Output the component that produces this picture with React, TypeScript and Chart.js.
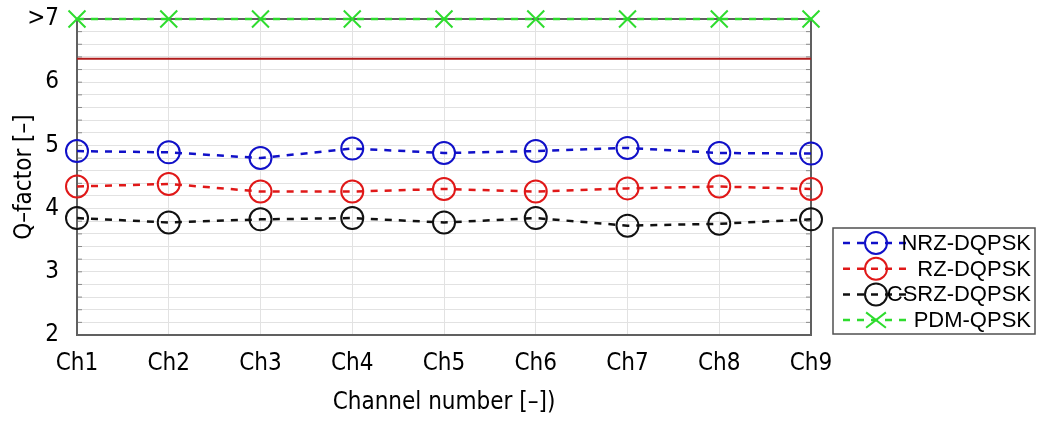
import React, { useEffect, useRef } from 'react';
import { Chart, registerables } from 'chart.js';

Chart.register(...registerables);

const channels = ['Ch1', 'Ch2', 'Ch3', 'Ch4', 'Ch5', 'Ch6', 'Ch7', 'Ch8', 'Ch9'];
const nrzDqpsk = [4.91, 4.89, 4.8, 4.95, 4.88, 4.91, 4.96, 4.88, 4.87];
const rzDqpsk = [4.35, 4.39, 4.27, 4.27, 4.31, 4.27, 4.32, 4.35, 4.31];
const csrzDqpsk = [3.85, 3.78, 3.83, 3.85, 3.78, 3.85, 3.73, 3.76, 3.83];
const pdmQpsk = [7, 7, 7, 7, 7, 7, 7, 7, 7];
const thresholdQ = [6.37, 6.37, 6.37, 6.37, 6.37, 6.37, 6.37, 6.37, 6.37];
const yTickValues = [2, 3, 4, 5, 6, 7];
const yTickLabels = ['2', '3', '4', '5', '6', '>7'];
const seriesNames = ['NRZ-DQPSK', 'RZ-DQPSK', 'CSRZ-DQPSK', 'PDM-QPSK'];

const AXIS_FONT = '"DejaVu Sans Condensed", "Liberation Sans Narrow", "DejaVu Sans", sans-serif';

const frameAndTicks = {
  id: 'frameAndTicks',
  beforeDatasetsDraw(chart: any) {
    const { ctx, chartArea: a, scales } = chart;
    const y = scales.y;
    ctx.save();
    ctx.strokeStyle = '#8a8a8a';
    ctx.lineWidth = 1;
    y.ticks.forEach((t: any) => {
      const py = y.getPixelForValue(t.value);
      ctx.beginPath();
      ctx.moveTo(a.left, py);
      ctx.lineTo(a.left + 5, py);
      ctx.moveTo(a.right, py);
      ctx.lineTo(a.right - 5, py);
      ctx.stroke();
    });
    ctx.strokeStyle = '#606060';
    ctx.lineWidth = 2;
    ctx.strokeRect(a.left, a.top, a.right - a.left, a.bottom - a.top);
    ctx.restore();
  },
};

const boxLegend = {
  id: 'boxLegend',
  afterDraw(chart: any) {
    const { ctx } = chart;
    const bx = 833, by = 228, bw = 202, bh = 106;
    ctx.save();
    ctx.fillStyle = '#ffffff';
    ctx.fillRect(bx, by, bw, bh);
    ctx.strokeStyle = '#505050';
    ctx.lineWidth = 1.5;
    ctx.strokeRect(bx, by, bw, bh);
    const ds = chart.data.datasets.filter((d: any) => d.inLegend);
    ds.forEach((d: any, i: number) => {
      const cy = 243 + i * 25.7;
      ctx.strokeStyle = d.borderColor;
      ctx.lineWidth = 2.5;
      ctx.setLineDash(d.borderDash || []);
      ctx.beginPath();
      ctx.moveTo(843, cy);
      ctx.lineTo(912, cy);
      ctx.stroke();
      ctx.setLineDash([]);
      ctx.lineWidth = 2;
      const cx = 876;
      const r = 11;
      ctx.beginPath();
      if (d.pointStyle === 'crossRot') {
        ctx.moveTo(cx - r * 0.9, cy - r * 0.7);
        ctx.lineTo(cx + r * 0.9, cy + r * 0.7);
        ctx.moveTo(cx - r * 0.9, cy + r * 0.7);
        ctx.lineTo(cx + r * 0.9, cy - r * 0.7);
      } else {
        ctx.arc(cx, cy, r, 0, Math.PI * 2);
      }
      ctx.stroke();
      ctx.fillStyle = '#000000';
      ctx.font = '22px "Liberation Sans", Arial, sans-serif';
      ctx.textAlign = 'right';
      ctx.textBaseline = 'middle';
      ctx.fillText(d.label, 1031, cy + 1);
    });
    ctx.restore();
  },
};

export default function App() {
  const ref = useRef<HTMLCanvasElement | null>(null);

  useEffect(() => {
    if (!ref.current) return;
    const circleSeries = (label: string, data: number[], color: string) => ({
      label,
      data,
      borderColor: color,
      backgroundColor: 'rgba(0,0,0,0)',
      borderWidth: 2.5,
      borderDash: [7, 7],
      pointStyle: 'circle',
      pointRadius: 11,
      pointBorderWidth: 2,
      pointBorderColor: color,
      pointBackgroundColor: 'rgba(0,0,0,0)',
      clip: false,
      inLegend: true,
    });
    const chart = new Chart(ref.current, {
      type: 'line',
      data: {
        labels: channels,
        datasets: [
          {
            label: 'threshold',
            data: thresholdQ,
            borderColor: '#b01c1c',
            borderWidth: 2,
            pointRadius: 0,
            clip: false,
            inLegend: false,
          } as any,
          circleSeries(seriesNames[0], nrzDqpsk, '#1010c8'),
          circleSeries(seriesNames[1], rzDqpsk, '#e01818'),
          circleSeries(seriesNames[2], csrzDqpsk, '#111111'),
          {
            label: seriesNames[3],
            data: pdmQpsk,
            borderColor: '#2edc2e',
            backgroundColor: 'rgba(0,0,0,0)',
            borderWidth: 2.5,
            borderDash: [7, 7],
            pointStyle: 'crossRot',
            pointRadius: 12,
            pointBorderWidth: 2,
            pointBorderColor: '#2edc2e',
            clip: false,
            inLegend: true,
          } as any,
        ],
      },
      options: {
        animation: false,
        responsive: true,
        maintainAspectRatio: false,
        layout: { padding: { left: 0, right: 234, top: 19, bottom: 0 } },
        plugins: { legend: { display: false }, tooltip: { enabled: false } },
        scales: {
          x: {
            type: 'category',
            offset: false,
            grid: { color: '#e2e2e2', lineWidth: 1, drawTicks: false },
            border: { display: false },
            ticks: {
              color: '#000',
              font: { family: AXIS_FONT, size: 24 },
              padding: 14,
              maxRotation: 0,
              autoSkip: false,
            },
            title: {
              display: true,
              text: 'Channel number [–])',
              color: '#000',
              font: { family: AXIS_FONT, size: 24 },
              padding: { top: 0, bottom: 4 },
            },
            afterFit: (s: any) => {
              s.height = 86;
              s.paddingLeft = 0;
              s.paddingRight = 0;
            },
          },
          y: {
            min: 2,
            max: 7,
            grid: { color: '#e2e2e2', lineWidth: 1, drawTicks: false },
            border: { display: false },
            ticks: {
              stepSize: 0.2,
              autoSkip: false,
              color: '#000',
              font: { family: AXIS_FONT, size: 24 },
              padding: 18,
              callback: (v: any) => {
                const n = Number(v);
                const i = yTickValues.findIndex((t) => Math.abs(t - n) < 1e-6);
                return i >= 0 ? yTickLabels[i] : '';
              },
            },
            title: {
              display: true,
              text: 'Q–factor [–]',
              color: '#000',
              font: { family: AXIS_FONT, size: 24 },
              padding: { top: 10, bottom: 0 },
            },
            afterFit: (s: any) => {
              s.width = 77;
              s.paddingTop = 0;
              s.paddingBottom = 0;
            },
          },
        },
      } as any,
      plugins: [frameAndTicks, boxLegend],
    });
    return () => chart.destroy();
  }, []);

  return (
    <div style={{ position: 'fixed', left: 0, top: 0, width: 1045, height: 421, background: '#fff' }}>
      <canvas ref={ref} />
    </div>
  );
}
